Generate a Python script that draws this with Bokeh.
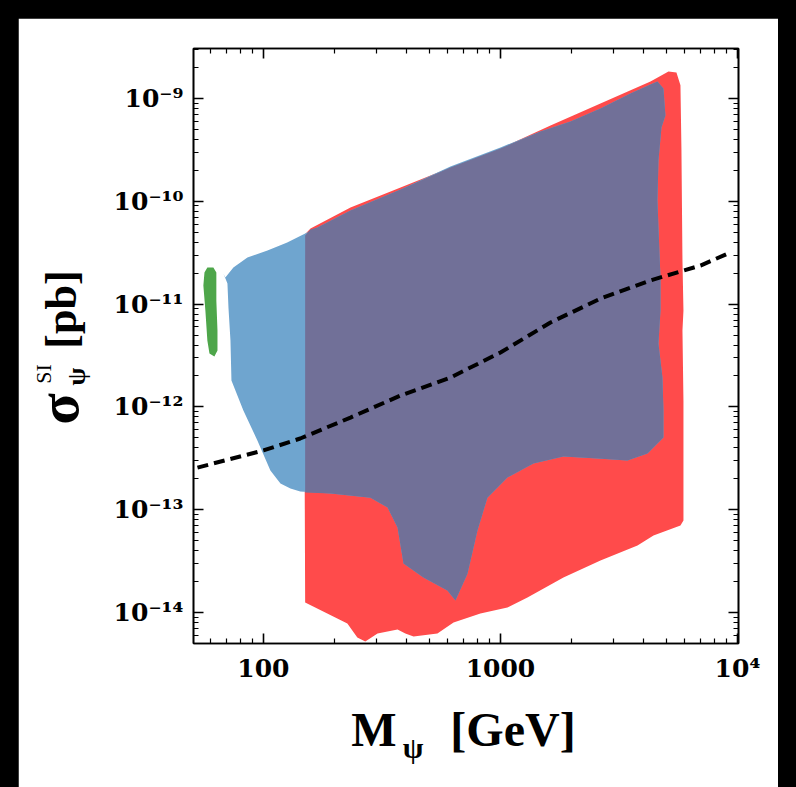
from bokeh.plotting import figure
from bokeh.models import LogAxis, LinearAxis, FixedTicker, Range1d, LinearScale
from bokeh.layouts import column
from bokeh.embed import file_html
from bokeh.resources import INLINE

# ---------------- data ----------------
# axis ticks
mass_ticks = [100, 1000, 10000]
mass_tick_labels = ["100", "1000", "10⁴"]
mass_minor = [60, 70, 80, 90, 200, 300, 400, 500, 600, 700, 800, 900,
              2000, 3000, 4000, 5000, 6000, 7000, 8000, 9000]
xsec_ticks = [1e-14, 1e-13, 1e-12, 1e-11, 1e-10, 1e-9]
xsec_tick_labels = ["10⁻¹⁴", "10⁻¹³", "10⁻¹²", "10⁻¹¹", "10⁻¹⁰", "10⁻⁹"]
xsec_minor = [m * d for d in [1e-15, 1e-14, 1e-13, 1e-12, 1e-11, 1e-10, 1e-9]
              for m in [2, 3, 4, 5, 6, 7, 8, 9]]

# red region
red_mass = [148, 158, 233, 379, 615, 1000, 1626, 2642, 4295, 5116, 5528, 5747,
            5803, 5860, 5917, 5860, 5917, 5917, 5747, 4422, 3786, 2642, 1844,
            1300, 1070, 823, 634, 542, 430, 397, 368, 303, 269, 249, 226, 150]
red_xsec = [4.65e-11, 5.44e-11, 8.70e-11, 1.36e-10, 2.13e-10, 3.26e-10, 5.46e-10,
            8.94e-10, 1.46e-9, 1.83e-9, 1.79e-9, 1.34e-9, 3.12e-10, 2.65e-11,
            8.66e-12, 5.54e-12, 1.15e-12, 7.85e-14, 7.02e-14, 5.61e-14, 4.49e-14,
            3.20e-14, 2.19e-14, 1.40e-14, 1.12e-14, 9.78e-15, 7.99e-15, 6.25e-15,
            5.84e-15, 6.25e-15, 6.83e-15, 6.25e-15, 5.22e-15, 5.71e-15, 7.82e-15,
            1.25e-14]

# blue region
blue_mass = [67.8, 69.1, 74.7, 85.6, 104, 126, 153, 169, 233, 379, 615, 1000,
             1475, 1974, 2642, 3536, 4295, 4596, 4872, 4967, 4779, 4642, 4596,
             4642, 4733, 4733, 4642, 4825, 4872, 4872, 4172, 3435, 2566, 1844,
             1378, 1070, 881, 800, 726, 646, 597, 473, 390, 368, 334, 283, 192,
             143, 130, 118, 107, 94.3, 82.3, 73.3, 72.6, 71.2, 70.5]
blue_xsec = [1.98e-11, 1.81e-11, 2.27e-11, 2.84e-11, 3.32e-11, 3.97e-11, 4.97e-11,
             5.56e-11, 8.14e-11, 1.30e-10, 2.18e-10, 3.34e-10, 4.78e-10, 5.97e-10,
             7.99e-10, 1.12e-9, 1.37e-9, 1.46e-9, 1.25e-9, 6.83e-10, 5.22e-10,
             2.49e-10, 1.02e-10, 5.56e-11, 1.81e-11, 8.66e-12, 4.14e-12, 1.93e-12,
             9.23e-13, 5.04e-13, 3.52e-13, 3.01e-13, 3.15e-13, 3.29e-13, 2.81e-13,
             2.06e-13, 1.31e-13, 6.28e-14, 2.39e-14, 1.31e-14, 1.64e-14, 2.19e-14,
             3.00e-14, 6.71e-14, 1.05e-13, 1.31e-13, 1.44e-13, 1.50e-13, 1.61e-13,
             1.80e-13, 2.41e-13, 4.71e-13, 9.23e-13, 1.81e-12, 4.42e-12, 9.27e-12,
             1.59e-11]

# overlap of red and blue
both_mass = [150, 150, 158, 169, 233, 379, 615, 1000, 1475, 1974, 2642, 3536,
             4295, 4596, 4872, 4967, 4779, 4642, 4596, 4642, 4733, 4733, 4642,
             4825, 4872, 4872, 4172, 3435, 2566, 1844, 1378, 1070, 881, 800, 726,
             646, 597, 473, 390, 368, 334, 283, 192]
both_xsec = [1.47e-13, 4.65e-11, 5.30e-11, 5.56e-11, 8.14e-11, 1.30e-10, 2.13e-10,
             3.26e-10, 4.78e-10, 5.97e-10, 7.99e-10, 1.12e-9, 1.37e-9, 1.46e-9,
             1.25e-9, 6.83e-10, 5.22e-10, 2.49e-10, 1.02e-10, 5.56e-11, 1.81e-11,
             8.66e-12, 4.14e-12, 1.93e-12, 9.23e-13, 5.04e-13, 3.52e-13, 3.01e-13,
             3.15e-13, 3.29e-13, 2.81e-13, 2.06e-13, 1.31e-13, 6.28e-14, 2.39e-14,
             1.31e-14, 1.64e-14, 2.19e-14, 3.00e-14, 6.71e-14, 1.05e-13, 1.31e-13,
             1.44e-13]

# green region
green_mass = [56.4, 58.0, 61.5, 63.3, 63.3, 64.0, 64.0, 62.1, 59.2, 58.0, 56.9, 55.8]
green_xsec = [2.03e-11, 2.27e-11, 2.27e-11, 2.03e-11, 1.08e-11, 5.54e-12, 3.54e-12,
              3.09e-12, 3.31e-12, 4.42e-12, 8.66e-12, 1.52e-11]

# dashed limit curve
limit_mass = [52.7, 100, 143, 233, 379, 615, 1000, 1626, 2642, 4295, 6981, 9343]
limit_xsec = [2.57e-13, 3.77e-13, 4.93e-13, 7.88e-13, 1.29e-12, 1.93e-12, 3.38e-12,
              6.62e-12, 1.13e-11, 1.70e-11, 2.37e-11, 3.18e-11]

# ---------------- figure ----------------
FONT = "Liberation Serif"
TICK_FONT = "DejaVu Serif"
FRAME_W, FRAME_H = 545, 595

p = figure(width=760, height=769, x_axis_type="log", y_axis_type="log",
           x_range=(50.7, 1.01e4), y_range=(5.0e-15, 3.06e-9),
           output_backend="svg", toolbar_location=None,
           min_border_left=175, min_border_right=40, min_border_top=30,
           min_border_bottom=144)
p.extra_x_ranges = {"ttl_x": Range1d(0, FRAME_W)}
p.extra_y_ranges = {"ttl_y": Range1d(0, FRAME_H)}
p.extra_x_scales = {"ttl_x": LinearScale()}
p.extra_y_scales = {"ttl_y": LinearScale()}
p.background_fill_color = "white"
p.border_fill_color = "white"
p.outline_line_color = "black"
p.outline_line_width = 1.6
p.xgrid.visible = False
p.ygrid.visible = False

p.patch(red_mass, red_xsec, fill_color="#ff4b4b", line_color=None)
p.patch(blue_mass, blue_xsec, fill_color="#6fa5cf", line_color=None)
p.patch(both_mass, both_xsec, fill_color="#717098", line_color=None)
p.patch(green_mass, green_xsec, fill_color="#4ea64a", line_color=None)
p.line(limit_mass, limit_xsec, line_color="black", line_width=4, line_dash="11 6")


def style_axis(ax, ticks, minor, labels=None):
    ax.ticker = FixedTicker(ticks=ticks, minor_ticks=minor)
    ax.axis_line_color = "black"
    ax.axis_line_width = 1.6
    ax.major_tick_in = 10
    ax.major_tick_out = 0
    ax.minor_tick_in = 5
    ax.minor_tick_out = 0
    ax.major_tick_line_width = 1.6
    ax.minor_tick_line_width = 1.2
    ax.major_tick_line_color = "black"
    ax.minor_tick_line_color = "black"
    ax.major_label_text_font = TICK_FONT
    ax.major_label_text_font_style = "bold"
    ax.major_label_text_color = "black"
    if labels is None:
        ax.major_label_overrides = {t: "" for t in ticks}
        ax.major_label_text_font_size = "10px"
        ax.major_label_standoff = 0
    else:
        ax.major_label_overrides = labels
        ax.major_label_text_font_size = "25px"
        ax.major_label_standoff = 10


style_axis(p.xaxis[0], mass_ticks, mass_minor, dict(zip(mass_ticks, mass_tick_labels)))
style_axis(p.yaxis[0], xsec_ticks, xsec_minor, dict(zip(xsec_ticks, xsec_tick_labels)))
top_ax = LogAxis()
right_ax = LogAxis()
style_axis(top_ax, mass_ticks, mass_minor)
style_axis(right_ax, xsec_ticks, xsec_minor)
p.add_layout(top_ax, "above")
p.add_layout(right_ax, "right")


# axis titles are drawn as tick labels of bare helper axes, so that the
# pieces (main text, subscript, superscript) can be placed independently
def title_axis(side, pieces, size, standoff, style="bold"):
    if side == "below":
        ax = LinearAxis(x_range_name="ttl_x")
    else:
        ax = LinearAxis(y_range_name="ttl_y")
        ax.major_label_orientation = "parallel"
    pos = [pp[0] for pp in pieces]
    ax.ticker = FixedTicker(ticks=pos, minor_ticks=[])
    ax.major_label_overrides = {pp[0]: pp[1] for pp in pieces}
    ax.axis_line_color = None
    ax.major_tick_line_color = None
    ax.minor_tick_line_color = None
    ax.major_tick_in = 0
    ax.major_tick_out = 0
    ax.minor_tick_in = 0
    ax.minor_tick_out = 0
    ax.major_label_text_font = FONT
    ax.major_label_text_font_style = style
    ax.major_label_text_font_size = size
    ax.major_label_text_color = "black"
    ax.major_label_standoff = standoff
    p.add_layout(ax, side)


# x title: M_psi [GeV]
title_axis("below", [(180.5, "M"), (319.5, "[GeV]")], "48px", 17)
title_axis("below", [(219.5, "ψ")], "30px", -28)

# y title: sigma_psi^SI [pb]
title_axis("left", [(267, "ψ")], "26px", 20)
title_axis("left", [(334, "[pb]")], "44px", -27)
title_axis("left", [(234.5, "σ")], "58px", -57)
title_axis("left", [(269.5, "SI")], "22px", -33, style="normal")

page = column(p, styles={"background-color": "black",
                         "padding": "18px 18px 0px 18px"})

open("out.html", "w").write(file_html(page, INLINE))
